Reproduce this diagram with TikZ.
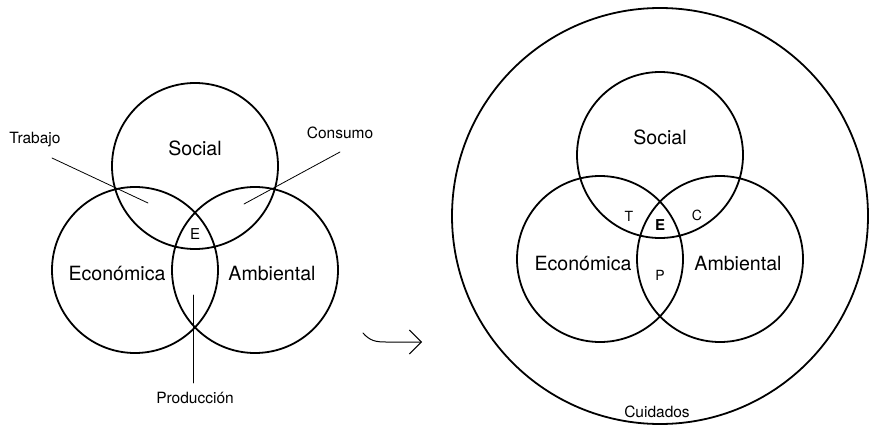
\documentclass[tikz,border=0pt]{standalone}
\usepackage{fontspec}
\setmainfont{TeX Gyre Heros}
\usetikzlibrary{arrows.meta}
\tikzset{
  circulo/.style={draw, circle, line width=1.8pt, minimum size=166pt, inner sep=0pt},
  grande/.style={font=\fontsize{19.6}{20}\selectfont},
  chico/.style={font=\fontsize{15.5}{16}\selectfont},
  letra/.style={font=\fontsize{14}{14}\selectfont},
  guia/.style={line width=0.8pt},
}
\begin{document}
\begin{tikzpicture}[x=1pt, y=-1pt, line join=round, line cap=round]
\useasboundingbox (0,0) rectangle (869,428);
% Los tres circulos de cada lado
\foreach \n/\cx/\cy in {a/195/166, b/660/155}{
  \node[circulo] (soc\n) at (\cx,\cy) {};
  \node[circulo] (eco\n) at (\cx-60,\cy+104) {};
  \node[circulo] (amb\n) at (\cx+60,\cy+104) {};
}
\node[circulo, minimum size=416pt] (cuid) at (660,216) {};
% Textos del lado izquierdo
\node[grande] (tsoca) at (195,148) {Social};
\node[grande] (tecoa) at (117,273) {Económica};
\node[grande] (tamba) at (272,273) {Ambiental};
\node[letra, font=\fontsize{15}{15}\selectfont] (ea) at (195,234) {E};
\node[chico] (trab) at (35,140) {Trabajo};
\node[chico] (cons) at (340,133) {Consumo};
\node[chico] (prod) at (195,398) {Producción};
% Lineas guia
\coordinate (trab1) at (52,158);  \coordinate (trab2) at (148,203);
\coordinate (cons1) at (340,152); \coordinate (cons2) at (244,204);
\coordinate (prod1) at (193,383); \coordinate (prod2) at (193,295);
\draw[guia] (trab1) -- (trab2);
\draw[guia] (cons1) -- (cons2);
\draw[guia] (prod1) -- (prod2);
% Flecha
\coordinate (fl1) at (363,333); \coordinate (fl2) at (422,342);
\draw[line width=1pt, -{Straight Barb[length=12pt, width=24pt, line width=1pt]}]
  (fl1) .. controls (370,341) and (376,342) .. (386,342) -- (fl2);
% Textos del lado derecho
\node[grande] (tsocb) at (660,137) {Social};
\node[grande] (tecob) at (583,263) {Económica};
\node[grande] (tambb) at (738,263) {Ambiental};
\node[letra, font=\fontsize{15}{15}\selectfont\bfseries] (eb) at (660,225) {E};
\node[letra] (tb) at (629,216) {T};
\node[letra] (cb) at (697,215) {C};
\node[letra] (pb) at (660,275) {P};
\node[chico] (tcuid) at (657,412) {Cuidados};
\end{tikzpicture}
\end{document}
